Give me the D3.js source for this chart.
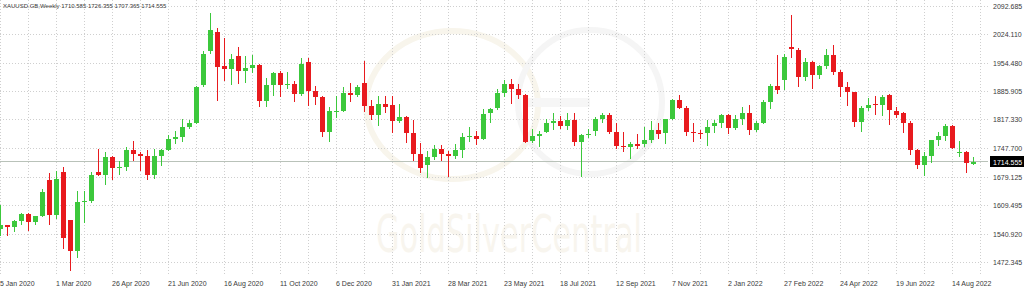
<!DOCTYPE html>
<html>
<head>
<meta charset="utf-8">
<script src="https://cdn.jsdelivr.net/npm/d3@7"></script>
<style>
  html, body { margin: 0; padding: 0; background: #fff; }
  svg { display: block; font-family: "Liberation Sans", Arial, sans-serif; }
</style>
</head>
<body>
<svg id="chart" width="1024" height="289" viewBox="0 0 1024 289"></svg>
<script>
// weekly XAUUSD bars, first bar = week of 5 Jan 2020
const symbolTitle = "XAUUSD.GB,Weekly";
const lastQuote = [1710.585, 1726.355, 1707.365, 1714.555];

const opens = [
  1552, 1562, 1557, 1571, 1589, 1570, 1584, 1672, 1585, 1690, 1573, 1499, 1617, 1620, 1691, 1683, 1727, 1700, 1702, 1743,
  1734, 1730, 1684, 1729, 1743, 1771, 1774, 1799, 1810, 1900, 1982, 2030, 1946, 1940, 1972, 1934, 1941, 1950, 1862, 1900,
  1930, 1900, 1902, 1879, 1956, 1887, 1871, 1788, 1838, 1839, 1881, 1877, 1905, 1850, 1828, 1856, 1853, 1813, 1824, 1784,
  1734, 1708, 1727, 1745, 1733, 1729, 1744, 1776, 1777, 1769, 1834, 1845, 1881, 1903, 1892, 1877, 1766, 1777, 1787, 1808,
  1813, 1802, 1815, 1763, 1779, 1790, 1818, 1828, 1788, 1754, 1751, 1758, 1758, 1768, 1793, 1784, 1818, 1865, 1846, 1788,
  1784, 1785, 1802, 1810, 1829, 1797, 1818, 1834, 1791, 1808, 1860, 1898, 1912, 1992, 1985, 1920, 1957, 1925, 1946, 1974,
  1933, 1897, 1884, 1811, 1846, 1854, 1853, 1877, 1838, 1832, 1810, 1744, 1707, 1728, 1767, 1777, 1802, 1737, 1738, 1710.585
];
const highs = [
  1611, 1563, 1574, 1591, 1592, 1584, 1649, 1689, 1692, 1703, 1575, 1645, 1644, 1690, 1747, 1738, 1730, 1718, 1751, 1765,
  1739, 1744, 1745, 1745, 1779, 1789, 1818, 1815, 1898, 1984, 2075, 2039, 2015, 1976, 1992, 1972, 1973, 1952, 1917, 1933,
  1935, 1932, 1911, 1965, 1966, 1898, 1875, 1848, 1875, 1896, 1906, 1900, 1959, 1864, 1875, 1875, 1875, 1855, 1826, 1816,
  1760, 1740, 1755, 1755, 1740, 1758, 1784, 1798, 1790, 1843, 1845, 1890, 1912, 1916, 1903, 1878, 1795, 1790, 1818, 1834,
  1825, 1832, 1832, 1782, 1795, 1823, 1834, 1834, 1808, 1787, 1764, 1781, 1800, 1814, 1810, 1818, 1868, 1877, 1850, 1808,
  1793, 1815, 1815, 1831, 1830, 1829, 1848, 1853, 1814, 1865, 1902, 1974, 1976, 2070, 1990, 1966, 1960, 1950, 1988, 1998,
  1937, 1909, 1885, 1849, 1870, 1874, 1876, 1879, 1847, 1835, 1813, 1745, 1739, 1767, 1787, 1807, 1803, 1765, 1740, 1726.355
];
const lows = [
  1535, 1536, 1546, 1563, 1548, 1562, 1581, 1563, 1576, 1504, 1451, 1482, 1567, 1615, 1680, 1659, 1670, 1683, 1692, 1717,
  1693, 1670, 1673, 1704, 1741, 1757, 1763, 1795, 1807, 1897, 1975, 1863, 1911, 1901, 1902, 1906, 1929, 1848, 1848, 1873,
  1872, 1890, 1860, 1874, 1850, 1853, 1775, 1764, 1820, 1836, 1860, 1871, 1836, 1817, 1802, 1832, 1785, 1808, 1760, 1717,
  1687, 1676, 1719, 1718, 1677, 1721, 1724, 1764, 1756, 1767, 1808, 1840, 1871, 1856, 1866, 1761, 1761, 1750, 1785, 1792,
  1794, 1791, 1753, 1677, 1772, 1778, 1810, 1782, 1745, 1738, 1721, 1746, 1750, 1760, 1771, 1758, 1817, 1843, 1778, 1762,
  1770, 1753, 1785, 1797, 1782, 1791, 1805, 1780, 1788, 1807, 1842, 1878, 1888, 1966, 1895, 1910, 1890, 1915, 1939, 1925,
  1872, 1850, 1798, 1786, 1838, 1828, 1825, 1805, 1822, 1784, 1732, 1697, 1680, 1711, 1754, 1765, 1745, 1727, 1688, 1707.365
];
const closes = [
  1562, 1557, 1571, 1589, 1570, 1584, 1643, 1585, 1674, 1530, 1499, 1617, 1620, 1684, 1683, 1727, 1700, 1702, 1743, 1734,
  1730, 1684, 1729, 1743, 1771, 1774, 1799, 1810, 1897, 1975, 2033, 1944, 1940, 1964, 1934, 1941, 1950, 1862, 1900, 1930,
  1900, 1902, 1879, 1951, 1887, 1871, 1788, 1838, 1839, 1881, 1877, 1895, 1850, 1828, 1856, 1847, 1813, 1824, 1784, 1734,
  1700, 1727, 1745, 1733, 1729, 1744, 1776, 1777, 1769, 1831, 1842, 1881, 1903, 1892, 1877, 1764, 1777, 1783, 1808, 1813,
  1802, 1815, 1763, 1779, 1783, 1818, 1828, 1788, 1754, 1751, 1758, 1753, 1768, 1793, 1783, 1818, 1865, 1846, 1788, 1784,
  1783, 1799, 1810, 1829, 1797, 1818, 1834, 1791, 1808, 1860, 1898, 1889, 1968, 1987, 1920, 1957, 1925, 1946, 1974, 1933,
  1897, 1884, 1811, 1846, 1853, 1852, 1872, 1841, 1827, 1810, 1744, 1707, 1728, 1767, 1777, 1802, 1748, 1739, 1712, 1714.555
];

const priceTicks = [2092.685, 2024.110, 1954.480, 1885.905, 1817.330, 1747.700, 1679.125, 1609.495, 1540.920, 1472.345];
const dateTicks = [
  "5 Jan 2020", "1 Mar 2020", "26 Apr 2020", "21 Jun 2020", "16 Aug 2020", "11 Oct 2020",
  "6 Dec 2020", "31 Jan 2021", "28 Mar 2021", "23 May 2021", "18 Jul 2021", "12 Sep 2021",
  "7 Nov 2021", "2 Jan 2022", "27 Feb 2022", "24 Apr 2022", "19 Jun 2022", "14 Aug 2022"
];
const weeksPerLabel = 8;
const weeksPerGrid = 4;

const svg = d3.select("#chart");
const plotRight = 986, plotBottom = 276;

const x = d3.scaleLinear().domain([0, 140]).range([0, 980]);
const y = d3.scaleLinear().domain([1438.5, 2106.5]).range([plotBottom, 0]);

const bars = opens.map((o, i) => ({i: i, o: o, h: highs[i], l: lows[i], c: closes[i]}));

// faint watermark logo
const wm = svg.append("g").attr("class", "watermark");
wm.append("ellipse")
  .attr("cx", 452).attr("cy", 105).attr("rx", 86).attr("ry", 74)
  .style("fill", "none").style("stroke", "#f8f5ec").style("stroke-width", 6);
wm.append("ellipse")
  .attr("cx", 590).attr("cy", 102).attr("rx", 72).attr("ry", 72)
  .style("fill", "none").style("stroke", "#f5f5f5").style("stroke-width", 6);
wm.append("rect")
  .attr("x", 528).attr("y", 98).attr("width", 62).attr("height", 9)
  .style("fill", "#f6f6f6");
wm.append("text")
  .attr("x", 376).attr("y", 252)
  .attr("textLength", 266).attr("lengthAdjust", "spacingAndGlyphs")
  .style("font-family", "'DejaVu Sans Condensed', 'DejaVu Sans', sans-serif")
  .style("font-size", "52px")
  .style("font-weight", "300")
  .style("fill", "#f8f5ee")
  .text("GoldSilverCentral");

// grid
const grid = svg.append("g").attr("class", "grid");
grid.selectAll("line.h")
  .data(priceTicks)
  .join("line")
  .attr("class", "h")
  .attr("x1", 0).attr("x2", plotRight + 2)
  .attr("y1", d => Math.round(y(d)) + 0.5)
  .attr("y2", d => Math.round(y(d)) + 0.5)
  .style("stroke", "#cfcfcf")
  .style("stroke-dasharray", "1,2");

grid.selectAll("line.v")
  .data(d3.range(0, 141, weeksPerGrid))
  .join("line")
  .attr("class", "v")
  .attr("x1", d => Math.round(x(d)) + 0.5)
  .attr("x2", d => Math.round(x(d)) + 0.5)
  .attr("y1", 0).attr("y2", plotBottom)
  .style("stroke", "#cfcfcf")
  .style("stroke-dasharray", "1,2");

// current price line
svg.append("line")
  .attr("x1", 0).attr("x2", plotRight + 2)
  .attr("y1", Math.round(y(lastQuote[3])) - 0.5)
  .attr("y2", Math.round(y(lastQuote[3])) - 0.5)
  .style("stroke", "#b9c2b9")
  .style("stroke-width", 1);

// candles
const up = "#3cc83c", down = "#e81a1e";
const candles = svg.append("g").attr("class", "candles")
  .selectAll("g")
  .data(bars)
  .join("g");

candles.append("line")
  .attr("x1", d => Math.round(x(d.i)) + 0.5)
  .attr("x2", d => Math.round(x(d.i)) + 0.5)
  .attr("y1", d => Math.round(y(d.h)))
  .attr("y2", d => Math.round(y(d.l)))
  .style("stroke", d => d.c >= d.o ? up : down)
  .style("stroke-width", 1);

candles.append("rect")
  .attr("x", d => Math.round(x(d.i)) - 2)
  .attr("width", 5)
  .attr("y", d => Math.round(y(Math.max(d.o, d.c))))
  .attr("height", d => Math.max(1, Math.round(y(Math.min(d.o, d.c))) - Math.round(y(Math.max(d.o, d.c)))))
  .style("fill", d => d.c >= d.o ? up : down);

// price axis labels
svg.append("g").selectAll("text")
  .data(priceTicks)
  .join("text")
  .attr("x", 993)
  .attr("y", d => y(d) + 0.5)
  .attr("dominant-baseline", "central")
  .style("font-size", "7px")
  .style("fill", "#3a3a3a")
  .text(d => d.toFixed(3));

// current price tag
const tagY = Math.round(y(lastQuote[3]));
svg.append("rect")
  .attr("x", 990).attr("y", tagY - 6)
  .attr("width", 34).attr("height", 11)
  .style("fill", "#000");
svg.append("text")
  .attr("x", 993).attr("y", tagY)
  .attr("dominant-baseline", "central")
  .style("font-size", "7px")
  .style("fill", "#fff")
  .text(lastQuote[3].toFixed(3));

// date axis labels
svg.append("g").selectAll("text")
  .data(dateTicks)
  .join("text")
  .attr("x", (d, k) => Math.round(x(k * weeksPerLabel)))
  .attr("y", 283)
  .attr("dominant-baseline", "central")
  .style("font-size", "7px")
  .style("fill", "#3a3a3a")
  .text(d => d);

// title line
svg.append("text")
  .attr("x", 3).attr("y", 6)
  .attr("dominant-baseline", "central")
  .style("font-size", "6px")
  .style("fill", "#3a3a3a")
  .text(symbolTitle + "  " + lastQuote.map(v => v.toFixed(3)).join(" "));
</script>
</body>
</html>
